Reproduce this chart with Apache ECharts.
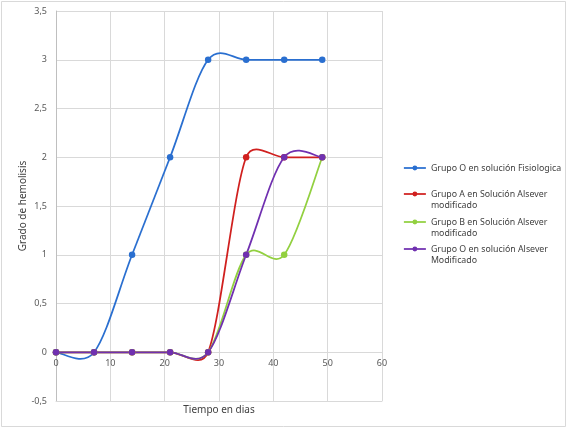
<!DOCTYPE html>
<html><head><meta charset="utf-8">
<script src="https://cdn.jsdelivr.net/npm/echarts@6/dist/echarts.min.js"></script>
<style>html,body{margin:0;padding:0;background:#fff}#c{width:567px;height:428px}</style>
</head><body><div id="c"></div>
<script>
var days = [0, 7, 14, 21, 28, 35, 42, 49];
var grupoOFisio = [0, 0, 1, 2, 3, 3, 3, 3];
var grupoAAlsever = [0, 0, 0, 0, 0, 2, 2, 2];
var grupoBAlsever = [0, 0, 0, 0, 0, 1, 1, 2];
var grupoOAlsever = [0, 0, 0, 0, 0, 1, 2, 2];
var names = ['Grupo O en solución Fisiologica', 'Grupo A en Solución Alsever\nmodificado', 'Grupo B en Solución Alsever\nmodificado', 'Grupo O en solución Alsever\nModificado'];
var colors = ['#2A6FD0', '#D0201F', '#92D040', '#7030B0'];
var values = [grupoOFisio, grupoAAlsever, grupoBAlsever, grupoOAlsever];
var font = 'Noto Sans';
function pairs(v){ return days.map(function(d,i){ return [d, v[i]]; }); }

// Excel-like smoothed segment (Catmull-Rom style handles, length limited)
function makeRender(vals, color){
  return function(params, api){
    var i = params.dataIndex;
    var n = days.length;
    if (i >= n - 1) return null;
    var P = days.map(function(d,k){ return api.coord([d, vals[k]]); });
    function tangent(k){
      var a = P[Math.max(k-1,0)], b = P[Math.min(k+1,n-1)];
      return [b[0]-a[0], b[1]-a[1]];
    }
    function dist(a,b){ return Math.sqrt((a[0]-b[0])*(a[0]-b[0])+(a[1]-b[1])*(a[1]-b[1])); }
    function handle(k, dir, segLen){
      var v = tangent(k);
      var len = Math.sqrt(v[0]*v[0]+v[1]*v[1]);
      if (len === 0) return [P[k][0], P[k][1]];
      var h = Math.min(len/6, 0.5*segLen);
      return [P[k][0] + dir*v[0]/len*h, P[k][1] + dir*v[1]/len*h];
    }
    var seg = dist(P[i], P[i+1]);
    var c1 = handle(i, 1, seg), c2 = handle(i+1, -1, seg);
    return {
      type: 'bezierCurve',
      shape: { x1: P[i][0], y1: P[i][1], x2: P[i+1][0], y2: P[i+1][1], cpx1: c1[0], cpy1: c1[1], cpx2: c2[0], cpy2: c2[1] },
      style: { stroke: color, fill: null, lineWidth: 1.75 },
      silent: true
    };
  };
}

var chart = echarts.init(document.getElementById('c'));
var legendTops = [162.5, 177.5, 205.5, 232.5];
var legends = names.map(function(n, i){
  return {
    data: [{ name: n, lineStyle: { opacity: 1, width: 1.75, color: colors[i] } }],
    orient: 'vertical', left: 403, top: legendTops[i], padding: 0,
    itemWidth: 22, itemHeight: 6, itemGap: 0,
    formatter: function(name){ return i === 0 ? name : '\u00a0\n' + name; },
    textStyle: { fontFamily: font, fontSize: 8.8, color: '#404040', lineHeight: 11 }
  };
});
var series = [];
names.forEach(function(n, i){
  series.push({
    name: n, type: 'line', data: pairs(values[i]), z: 3,
    symbol: 'circle', symbolSize: 6.5,
    lineStyle: { color: colors[i], width: 1.75, opacity: 0 },
    itemStyle: { color: colors[i] }
  });
});
names.forEach(function(n, i){
  series.push({
    name: n, type: 'custom', data: pairs(values[i]), z: 2,
    renderItem: makeRender(values[i], colors[i]),
    itemStyle: { color: colors[i] }
  });
});
chart.setOption({
  animation: false,
  backgroundColor: '#fff',
  graphic: [{ type: 'rect', shape: { x: 1.5, y: 1.5, width: 564, height: 425 }, style: { fill: 'none', stroke: '#D9D9D9', lineWidth: 1 }, silent: true }],
  grid: { left: 56, right: 185, top: 11, bottom: 27, outerBoundsMode: 'none', containLabel: false },
  legend: legends,
  xAxis: {
    type: 'value', min: 0, max: 60, interval: 10,
    name: 'Tiempo en dias', nameLocation: 'middle', nameGap: 4, nameMoveOverlap: false,
    nameTextStyle: { fontFamily: font, fontSize: 10, color: '#404040', verticalAlign: 'top' },
    axisLine: { onZero: false, lineStyle: { color: '#D9D9D9' } },
    axisTick: { show: false },
    axisLabel: { fontFamily: font, fontSize: 9, color: '#595959', margin: -42 },
    splitLine: { show: true, lineStyle: { color: '#D9D9D9' } }
  },
  yAxis: {
    type: 'value', min: -0.5, max: 3.5, interval: 0.5,
    name: 'Grado de hemolisis', nameLocation: 'middle', nameGap: 28, nameMoveOverlap: false,
    nameTextStyle: { fontFamily: font, fontSize: 10, color: '#404040' },
    axisLine: { show: true, lineStyle: { color: '#BFBFBF' } },
    axisTick: { show: false },
    axisLabel: { fontFamily: font, fontSize: 9, color: '#595959', margin: 9,
      formatter: function(v){ return String(v).replace('.', ','); } },
    splitLine: { show: true, lineStyle: { color: '#D9D9D9' } }
  },
  series: series
});
</script></body></html>
